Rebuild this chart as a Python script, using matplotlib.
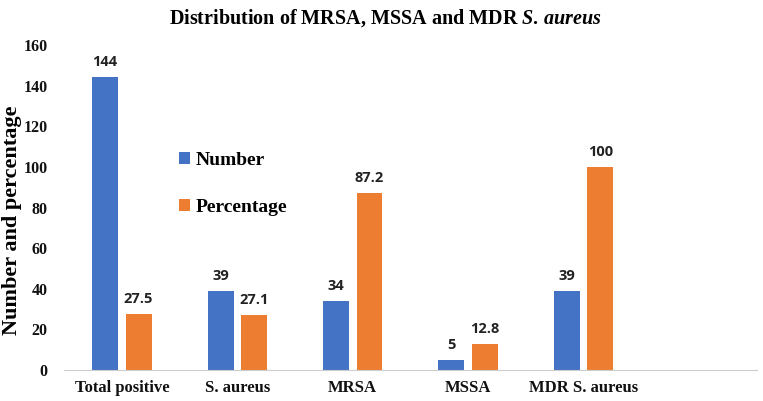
import numpy as np
import matplotlib
matplotlib.use("Agg")
import matplotlib.pyplot as plt

plt.rcParams["mathtext.fontset"] = "custom"
plt.rcParams["mathtext.it"] = "Liberation Serif:italic:bold"
plt.rcParams["mathtext.rm"] = "Liberation Serif:bold"
plt.rcParams["mathtext.bf"] = "Liberation Serif:italic:bold"

categories = ["Total positive", "S. aureus", "MRSA", "MSSA", "MDR S. aureus", ""]
number     = [144, 39, 34, 5, 39, None]
percentage = [27.5, 27.1, 87.2, 12.8, 100, None]

BLUE   = "#4472C4"
ORANGE = "#ED7D31"
SERIF  = "Liberation Serif"

fig = plt.figure(figsize=(7.63, 4.01), dpi=100)
ax = fig.add_axes([0.084, 0.077, 0.908, 0.811])

x = np.arange(len(categories))
w = 0.225
off = 0.145
n_vals = [v if v is not None else 0 for v in number]
p_vals = [v if v is not None else 0 for v in percentage]
b1 = ax.bar(x - off, n_vals, w, color=BLUE, label="Number")
b2 = ax.bar(x + off, p_vals, w, color=ORANGE, label="Percentage")

for bars, vals in ((b1, number), (b2, percentage)):
    for r, v in zip(bars, vals):
        if v is None:
            continue
        ax.text(r.get_x() + r.get_width() / 2, v + 4, f"{v:g}",
                ha="center", va="bottom", fontsize=10.5, fontweight="bold",
                family="Open Sans", color="#222222")

ax.set_xlim(-0.5, len(categories) - 0.5)
ax.set_ylim(0, 160)
ax.set_yticks(range(0, 161, 20))
ax.set_xticks(x)
ax.set_xticklabels(categories)
for lbl in ax.get_xticklabels() + ax.get_yticklabels():
    lbl.set_family(SERIF)
    lbl.set_fontweight("bold")
    lbl.set_fontsize(12)
    lbl.set_color("#111111")
for lbl in ax.get_yticklabels():
    lbl.set_fontsize(11.5)
ax.tick_params(length=0, pad=7)
ax.tick_params(axis="y", pad=12)

for s in ("top", "right", "left"):
    ax.spines[s].set_visible(False)
ax.spines["bottom"].set_color("#cccccc")

# y label placed by hand so it stays inside the figure
fig.text(0.016, 0.45, "Number and percentage", family=SERIF, fontweight="bold",
         fontsize=16, rotation=90, ha="center", va="center")
fig.text(0.505, 0.955, "Distribution of MRSA, MSSA and MDR $S.\\,aureus$",
         family=SERIF, fontweight="bold", fontsize=14.5, ha="center", va="center")

leg = ax.legend(loc="upper left", bbox_to_anchor=(0.14, 0.725), frameon=False,
                prop={"family": SERIF, "weight": "bold", "size": 14},
                handlelength=0.6, handleheight=0.6, handletextpad=0.3,
                labelspacing=1.55)

fig.savefig("out.png", dpi=100)
